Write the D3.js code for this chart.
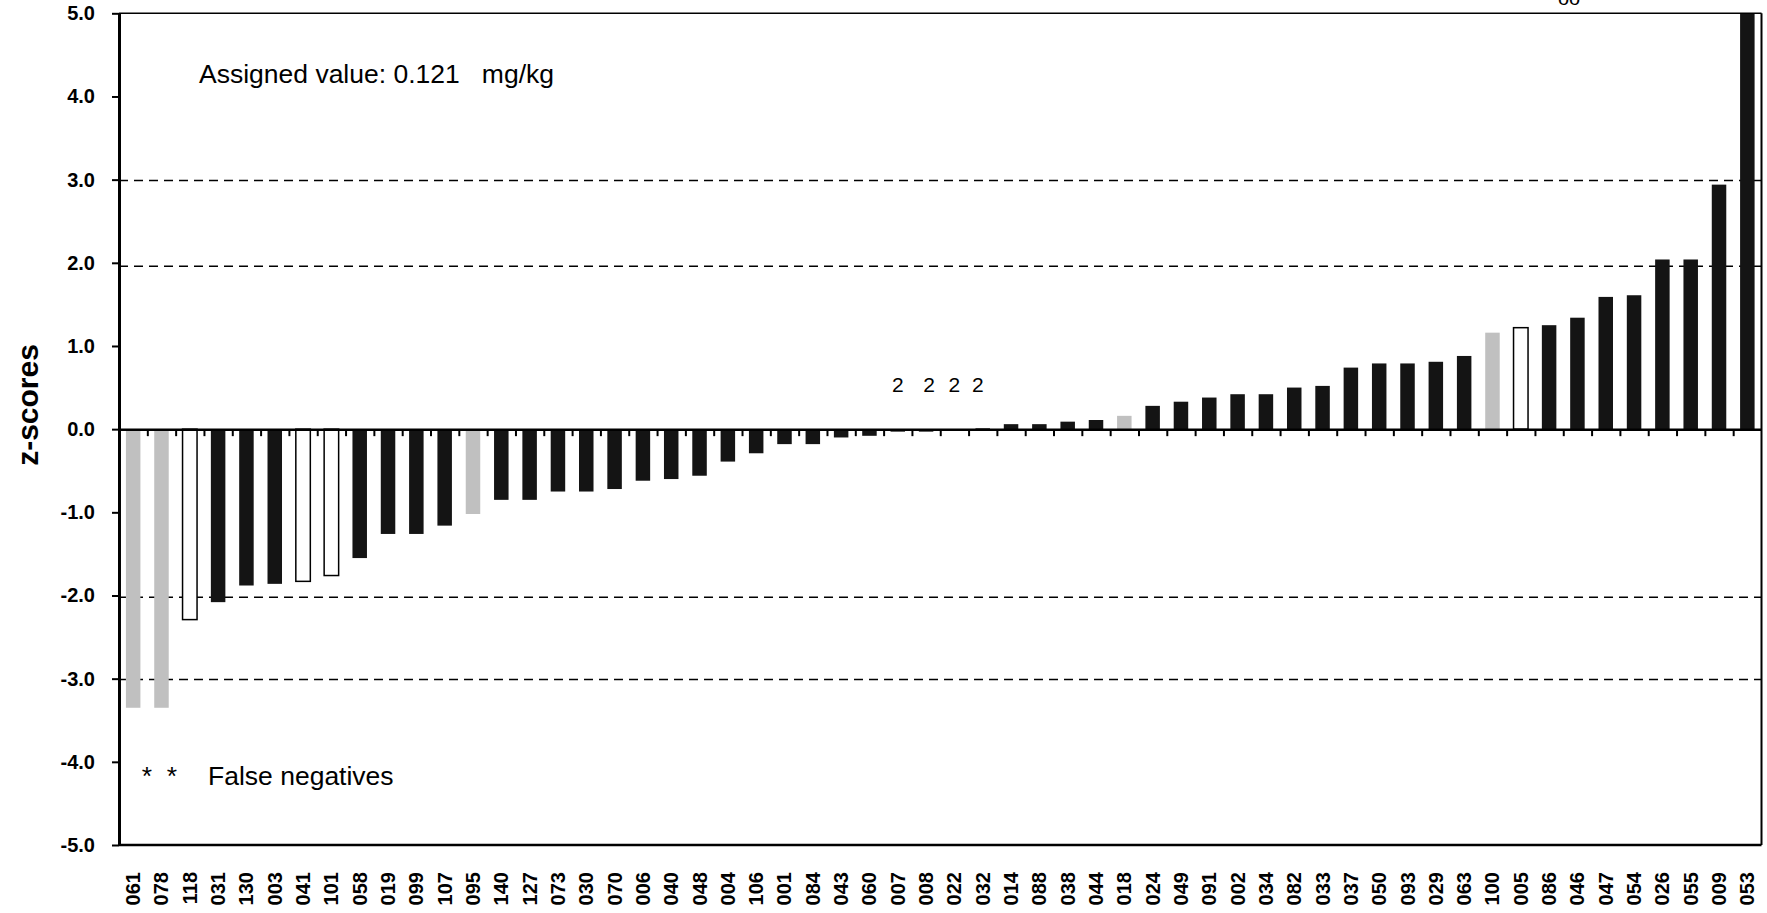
<!DOCTYPE html>
<html>
<head>
<meta charset="utf-8">
<script src="https://cdn.jsdelivr.net/npm/d3@7"></script>
<style>
body{margin:0;background:#fff;}
text{font-family:"Liberation Sans",Arial,sans-serif;fill:#000;}
</style>
</head>
<body>
<div id="chart"></div>
<script>
// lab codes, sorted by z-score
var labs = ['061','078','118','031','130','003','041','101','058','019','099','107','095','140','127','073','030','070','006','040','048','004','106','001','084','043','060','007','008','022','032','014','088','038','044','018','024','049','091','002','034','082','033','037','050','093','029','063','100','005','086','046','047','054','026','055','009','053']
var zscores = [-3.35,-3.35,-2.29,-2.08,-1.88,-1.86,-1.83,-1.76,-1.55,-1.26,-1.26,-1.16,-1.02,-0.85,-0.85,-0.75,-0.75,-0.72,-0.62,-0.60,-0.56,-0.39,-0.29,-0.18,-0.18,-0.10,-0.08,-0.03,-0.03,0.00,0.01,0.06,0.06,0.09,0.11,0.16,0.28,0.33,0.38,0.42,0.42,0.50,0.52,0.74,0.79,0.79,0.81,0.88,1.16,1.22,1.25,1.34,1.59,1.61,2.04,2.04,2.94,5.0]
// g = grey, w = open, b = black
var kinds = ['g','g','w','b','b','b','w','w','b','b','b','b','g','b','b','b','b','b','b','b','b','b','b','b','b','b','b','b','b','b','b','b','b','b','b','g','b','b','b','b','b','b','b','b','b','b','b','b','g','w','b','b','b','b','b','b','b','b']
var yTicks = [5,4,3,2,1,0,-1,-2,-3,-4,-5]
// limit lines as drawn in the source (not exactly on the ticks)
var limits = [2.99,1.96,-2.02,-3.01]
var markedLabs = ['007','008','022','032']
var markShift = [0,3,0,-5]

var W = 1767, H = 913
var margin = {left:119, right:5.5, top:13.3, bottom:68}

var svg = d3.select('#chart').append('svg')
	.attr('width',W).attr('height',H)

var x = d3.scaleBand().domain(labs).range([margin.left, W - margin.right])
var y = d3.scaleLinear().domain([-5,5]).range([H - margin.bottom, margin.top])
var bw = 14.5

var fills = {g:'#c0c0c0', w:'#ffffff', b:'#141414'}

// dashed limit lines
svg.selectAll('line.limit').data(limits).enter().append('line')
	.attr('class','limit')
	.attr('x1',margin.left).attr('x2',W - margin.right)
	.attr('y1',function(d){ return y(d) }).attr('y2',function(d){ return y(d) })
	.attr('stroke','#000').attr('stroke-width',1.5).attr('stroke-dasharray','9,6')

// bars
svg.selectAll('rect.bar').data(labs).enter().append('rect')
	.attr('class','bar')
	.attr('x',function(d){ return x(d) + (x.bandwidth() - bw)/2 })
	.attr('y',function(d,i){ return y(Math.max(0,zscores[i])) })
	.attr('width',bw)
	.attr('height',function(d,i){ return Math.abs(y(zscores[i]) - y(0)) })
	.attr('fill',function(d,i){ return fills[kinds[i]] })
	.attr('stroke',function(d,i){ return kinds[i] == 'w' ? '#000' : 'none' })
	.attr('stroke-width',1.5)

// frame
var fr = svg.append('g').attr('stroke','#000').attr('fill','none')
fr.append('line').attr('x1',margin.left).attr('x2',W - margin.right)
	.attr('y1',y(5)).attr('y2',y(5)).attr('stroke-width',1.5)
fr.append('line').attr('x1',W - margin.right).attr('x2',W - margin.right)
	.attr('y1',y(5)).attr('y2',y(-5)).attr('stroke-width',2)
fr.append('line').attr('x1',margin.left).attr('x2',W - margin.right)
	.attr('y1',y(-5)).attr('y2',y(-5)).attr('stroke-width',2.5)

// zero line with ticks between categories
var xi = d3.scaleLinear().domain([0,labs.length]).range([margin.left, W - margin.right])
var zeroAxis = svg.append('g').attr('transform','translate(0,' + y(0) + ')')
	.call(d3.axisBottom(xi).tickValues(d3.range(1,labs.length)).tickSize(7).tickSizeOuter(0).tickFormat(''))
zeroAxis.select('.domain').attr('stroke-width',2.5)
zeroAxis.selectAll('.tick line').attr('stroke-width',2)

// y axis
var yAxis = svg.append('g').attr('transform','translate(' + margin.left + ',0)')
	.call(d3.axisLeft(y).tickValues(yTicks).tickSize(7).tickSizeOuter(0).tickPadding(17)
		.tickFormat(function(d){ return d.toFixed(1) }))
yAxis.select('.domain').attr('stroke-width',3)
yAxis.selectAll('.tick line').attr('stroke-width',2)
yAxis.selectAll('.tick text').attr('font-size',20).attr('font-weight','bold')
	.attr('font-family','"Liberation Sans",Arial,sans-serif').attr('fill','#000')

// category labels
svg.selectAll('text.lab').data(labs).enter().append('text')
	.attr('class','lab')
	.attr('transform',function(d){ return 'translate(' + (x(d) + x.bandwidth()/2) + ',872) rotate(-90)' })
	.attr('text-anchor','end').attr('dy','0.35em')
	.attr('font-size',20).attr('font-weight','bold')
	.text(function(d){ return d })

// axis title
svg.append('text')
	.attr('transform','translate(27,405) rotate(-90)')
	.attr('text-anchor','middle').attr('dy','0.35em')
	.attr('font-size',30).attr('font-weight','bold')
	.text('z-scores')

// notes
svg.append('text').attr('x',199).attr('y',83).attr('font-size',26.5)
	.style('white-space','pre')
	.text('Assigned value: 0.121   mg/kg')

svg.selectAll('text.star').data([147,172]).enter().append('text')
	.attr('class','star').attr('x',function(d){ return d }).attr('y',785)
	.attr('text-anchor','middle').attr('font-size',26.5).text('*')
svg.append('text').attr('x',208).attr('y',785).attr('font-size',26.5).text('False negatives')

svg.selectAll('text.mark').data(markedLabs).enter().append('text')
	.attr('class','mark')
	.attr('x',function(d,i){ return x(d) + x.bandwidth()/2 + markShift[i] }).attr('y',392)
	.attr('text-anchor','middle').attr('font-size',21).text('2')

svg.append('text').attr('x',1569).attr('y',5).attr('text-anchor','middle')
	.attr('font-size',20).text('oo')
</script>
</body>
</html>
